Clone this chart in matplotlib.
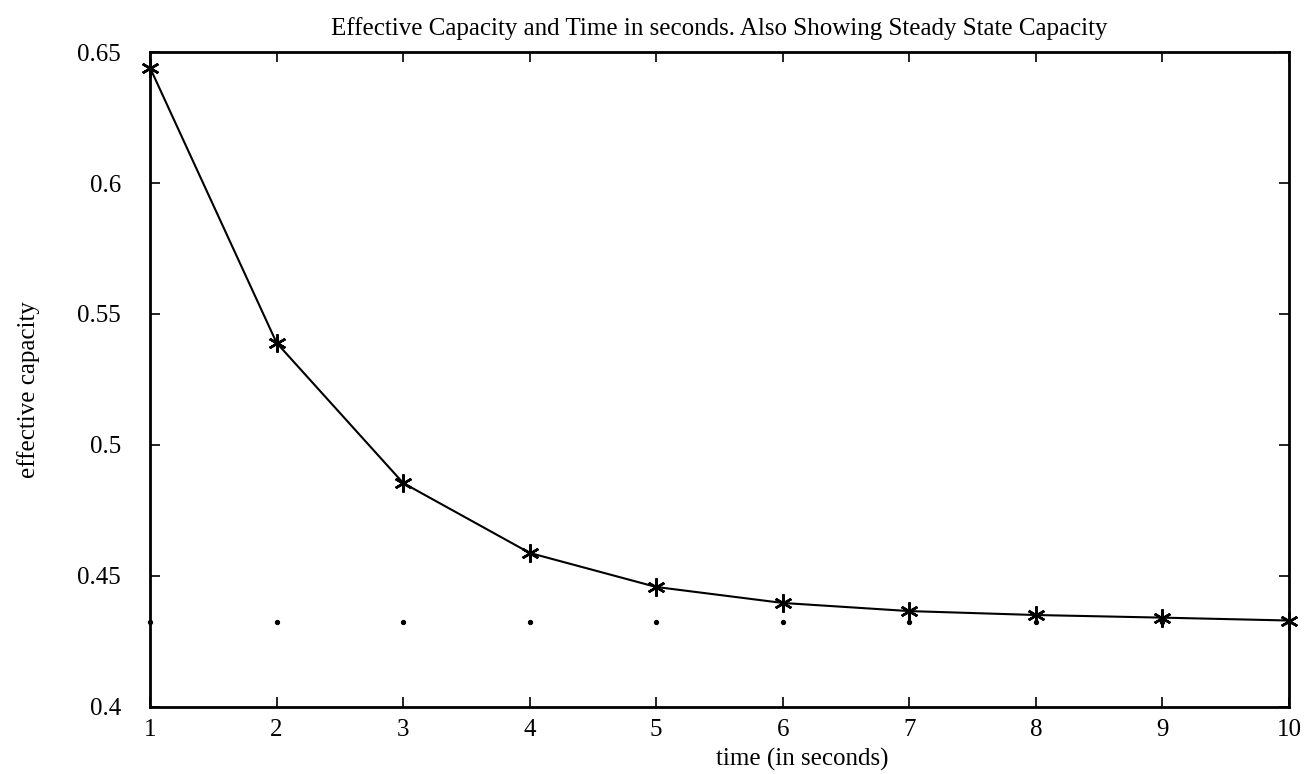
import matplotlib
matplotlib.use("Agg")
import matplotlib.pyplot as plt

plt.rcParams['font.family'] = ['Liberation Serif', 'DejaVu Serif']

time_s = [1, 2, 3, 4, 5, 6, 7, 8, 9, 10]
eff_cap = [0.644, 0.539, 0.4855, 0.4588, 0.4458, 0.4397, 0.4366, 0.4351, 0.4341, 0.4330]
steady_cap = [0.4325] * len(time_s)
y_ticks = [0.4, 0.45, 0.5, 0.55, 0.6, 0.65]
y_labels = ["0.4", "0.45", "0.5", "0.55", "0.6", "0.65"]

fig = plt.figure(figsize=(13.07, 7.74), dpi=100)
ax = fig.add_axes([0.1148, 0.0866, 0.8714, 0.8462])

ax.plot(time_s, eff_cap, color='black', lw=1.5, marker=(6, 2, 0), ms=13, mew=1.8, clip_on=False)
ax.plot(time_s, steady_cap, color='black', ls='none', marker='o', ms=2.8, clip_on=False)

ax.set_xlim(1, 10)
ax.set_ylim(0.4, 0.65)
ax.set_xticks(time_s)
ax.set_yticks(y_ticks)
ax.set_yticklabels(y_labels)
ax.tick_params(direction='in', length=7, width=1.2, top=True, right=True, labelsize=18)
ax.tick_params(axis='x', pad=9)
ax.tick_params(axis='y', pad=21)
for s in ax.spines.values():
    s.set_linewidth(2)

ax.set_title("Effective Capacity and Time in seconds. Also Showing Steady State Capacity", fontsize=18, pad=12)
ax.set_xlabel("time (in seconds)", fontsize=18)
ax.xaxis.set_label_coords(0.573, -0.062)
ax.set_ylabel("effective capacity", fontsize=18)
ax.yaxis.set_label_coords(-0.097, 0.484)

fig.savefig("out.png", dpi=100)
